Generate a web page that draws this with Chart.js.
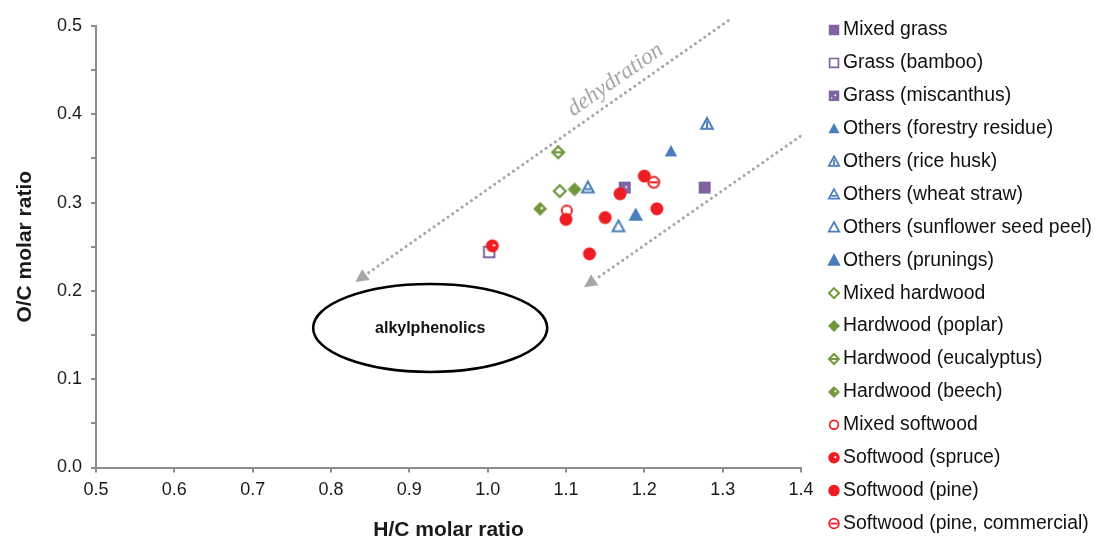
<!DOCTYPE html>
<html><head><meta charset="utf-8">
<script src="https://cdn.jsdelivr.net/npm/chart.js@4.4.0/dist/chart.umd.min.js"></script>
<style>html,body{margin:0;padding:0;background:#fff;}#wrap{width:1095px;height:546px;}</style>
</head><body><div id="wrap"><canvas id="c" width="1095" height="546"></canvas></div>
<script>
// ---- data (H/C, O/C) ----
const seriesLabels = ['Mixed grass','Grass (bamboo)','Grass (miscanthus)','Others (forestry residue)','Others (rice husk)','Others (wheat straw)','Others (sunflower seed peel)','Others (prunings)','Mixed hardwood','Hardwood (poplar)','Hardwood (eucalyptus)','Hardwood (beech)','Mixed softwood','Softwood (spruce)','Softwood (pine)','Softwood (pine, commercial)'];
const mixedGrass      = [[1.277, 0.317]];
const grassBamboo     = [[1.002, 0.244]];
const grassMiscanthus = [[1.175, 0.317]];
const forestryResidue = [[1.234, 0.358]];
const riceHusk        = [[1.280, 0.389]];
const wheatStraw      = [[1.128, 0.317]];
const sunflowerPeel   = [[1.167, 0.273]];
const prunings        = [[1.189, 0.286]];
const mixedHardwood   = [[1.092, 0.313]];
const poplar          = [[1.111, 0.315]];
const eucalyptus      = [[1.090, 0.357]];
const beech           = [[1.067, 0.293]];
const mixedSoftwood   = [[1.101, 0.291]];
const spruce          = [[1.006, 0.251]];
const pine            = [[1.100, 0.281],[1.150, 0.283],[1.130, 0.242],[1.169, 0.310],[1.200, 0.330],[1.216, 0.293]];
const pineCommercial  = [[1.212, 0.323]];
const seriesData = [mixedGrass, grassBamboo, grassMiscanthus, forestryResidue, riceHusk, wheatStraw, sunflowerPeel, prunings, mixedHardwood, poplar, eucalyptus, beech, mixedSoftwood, spruce, pine, pineCommercial];
const xTickStep = 0.1, yTickStep = 0.05;
const xRange = [0.5, 1.4], yRange = [0, 0.5];
const xTitle = 'H/C molar ratio', yTitle = 'O/C molar ratio';
const ellipseLabel = 'alkylphenolics', arrowLabel = 'dehydration';
// annotation geometry in data units
const arrowUpper = [[1.307, 0.506],[0.831, 0.210]];
const arrowLower = [[1.399, 0.375],[1.123, 0.204]];
const ellipseCenter = [0.9266, 0.158], ellipseRadii = [0.1494, 0.0498];
const arrowLabelPos = [1.163, 0.439];

// ---- styles ----
const PURPLE='#8064a2', BLUE='#4a7ebb', GREEN='#71993b', RED='#ee1d23';
const markers = [
  {shape:'square', v:'fill', c:PURPLE, s:12, ls:10.5},
  {shape:'square', v:'open', c:PURPLE, s:12.5, ls:10.5},
  {shape:'square', v:'dot', c:PURPLE, s:12, ls:10.5},
  {shape:'tri', v:'fill', c:BLUE, s:11, ls:10},
  {shape:'tri', v:'vbar', c:BLUE, s:12.5, ls:11},
  {shape:'tri', v:'hbar', c:BLUE, s:12.5, ls:11},
  {shape:'tri', v:'open', c:BLUE, s:12.5, ls:11},
  {shape:'tri', v:'fill', c:BLUE, s:13, ls:12},
  {shape:'diamond', v:'open', c:GREEN, s:14, ls:12},
  {shape:'diamond', v:'fill', c:GREEN, s:14, ls:12},
  {shape:'diamond', v:'hbar', c:GREEN, s:14, ls:12},
  {shape:'diamond', v:'dot', c:GREEN, s:14, ls:12},
  {shape:'circle', v:'open', c:RED, s:12, ls:10.5},
  {shape:'circle', v:'dot', c:RED, s:13, ls:11.5},
  {shape:'circle', v:'fill', c:RED, s:13, ls:11.5},
  {shape:'circle', v:'hbar', c:RED, s:13, ls:11.5}
];

function pathShape(ctx, shape, cx, cy, s){
  const h = s/2;
  ctx.beginPath();
  if (shape==='square'){ ctx.rect(cx-h, cy-h, s, s); }
  else if (shape==='tri'){ ctx.moveTo(cx, cy-0.58*s); ctx.lineTo(cx+0.56*s, cy+0.45*s); ctx.lineTo(cx-0.56*s, cy+0.45*s); ctx.closePath(); }
  else if (shape==='diamond'){ ctx.moveTo(cx, cy-h); ctx.lineTo(cx+h, cy); ctx.lineTo(cx, cy+h); ctx.lineTo(cx-h, cy); ctx.closePath(); }
  else { ctx.arc(cx, cy, h, 0, Math.PI*2); }
}
function drawMarker(ctx, m, cx, cy, s){
  const lw = Math.max(1.6, s*0.16);
  ctx.save();
  ctx.lineJoin='miter';
  if (m.v==='fill' || m.v==='dot'){
    pathShape(ctx, m.shape, cx, cy, s); ctx.fillStyle=m.c; ctx.fill();
    if (m.v==='dot'){
      ctx.fillStyle='#fff';
      ctx.beginPath(); ctx.arc(cx+0.12*s, cy-0.05*s, s*0.09, 0, Math.PI*2); ctx.fill();
      if (m.shape==='square'){ ctx.beginPath(); ctx.arc(cx-0.22*s, cy+0.2*s, s*0.07, 0, Math.PI*2); ctx.fill(); }
    }
  } else {
    const si = s - lw;
    pathShape(ctx, m.shape, cx, cy, si); ctx.fillStyle='#fff'; ctx.fill();
    ctx.strokeStyle=m.c; ctx.lineWidth=lw; ctx.stroke();
    ctx.beginPath();
    if (m.v==='vbar'){ ctx.moveTo(cx, cy-0.2*s); ctx.lineTo(cx, cy+0.4*s); }
    if (m.v==='hbar'){
      if (m.shape==='tri'){ ctx.moveTo(cx-0.25*s, cy+0.12*s); ctx.lineTo(cx+0.25*s, cy+0.12*s); }
      else { ctx.moveTo(cx-0.3*s, cy); ctx.lineTo(cx+0.3*s, cy); }
    }
    ctx.lineWidth=lw; ctx.stroke();
  }
  ctx.restore();
}
function markerCanvas(m){
  const cv = document.createElement('canvas');
  cv.width = 24; cv.height = 24;
  drawMarker(cv.getContext('2d'), m, 12, 12, m.s);
  return cv;
}

const FONT = "'Liberation Sans', Arial, Helvetica, sans-serif";
const AXIS = '#8c8c8c', TEXT = '#1a1a1a', ANNOT = '#a6a6a6';

const annotations = {
  id:'annotations',
  beforeDatasetsDraw(chart){
    const {ctx, scales:{x, y}} = chart;
    const P = p => [x.getPixelForValue(p[0]), y.getPixelForValue(p[1])];
    ctx.save();
    [arrowUpper, arrowLower].forEach(a => {
      const [x0,y0] = P(a[0]), [x1,y1] = P(a[1]);
      const ang = Math.atan2(y1-y0, x1-x0), L = 13, W = 6.5;
      const bx = x1 - L*Math.cos(ang), by = y1 - L*Math.sin(ang);
      ctx.strokeStyle = ANNOT; ctx.lineWidth = 3; ctx.lineCap='round';
      ctx.setLineDash([0.1, 5.6]);
      ctx.beginPath(); ctx.moveTo(x0,y0); ctx.lineTo(bx,by); ctx.stroke();
      ctx.setLineDash([]);
      ctx.fillStyle = ANNOT;
      ctx.beginPath(); ctx.moveTo(x1,y1);
      ctx.lineTo(bx + W*Math.sin(ang), by - W*Math.cos(ang));
      ctx.lineTo(bx - W*Math.sin(ang), by + W*Math.cos(ang));
      ctx.closePath(); ctx.fill();
    });
    const [u0x,u0y] = P(arrowUpper[1]), [u1x,u1y] = P(arrowUpper[0]);
    const tang = Math.atan2(u1y-u0y, u1x-u0x);
    const [tx,ty] = P(arrowLabelPos);
    ctx.translate(tx,ty); ctx.rotate(tang);
    ctx.font = "italic 23px 'Liberation Serif', 'Times New Roman', serif";
    ctx.fillStyle = ANNOT; ctx.textAlign='center'; ctx.textBaseline='middle';
    ctx.fillText(arrowLabel, 0, 0);
    ctx.setTransform(1,0,0,1,0,0);
    ctx.restore();
    ctx.save();
    const [ex,ey] = P(ellipseCenter);
    const rx = Math.abs(x.getPixelForValue(ellipseCenter[0]+ellipseRadii[0]) - ex);
    const ry = Math.abs(y.getPixelForValue(ellipseCenter[1]+ellipseRadii[1]) - ey);
    ctx.strokeStyle='#000'; ctx.lineWidth=2.6;
    ctx.beginPath(); ctx.ellipse(ex, ey, rx, ry, 0, 0, Math.PI*2); ctx.stroke();
    ctx.fillStyle='#111'; ctx.font = "bold 16px " + FONT; ctx.textAlign='center'; ctx.textBaseline='middle';
    ctx.fillText(ellipseLabel, ex, ey+1);
    ctx.restore();
  }
};

const sideLegend = {
  id:'sideLegend',
  afterDraw(chart){
    const ctx = chart.ctx;
    ctx.save();
    ctx.font = "19.4px " + FONT; ctx.fillStyle = '#111'; ctx.textAlign='left'; ctx.textBaseline='middle';
    chart.data.datasets.forEach((ds, i) => {
      const yy = 30 + i*32.9;
      drawMarker(ctx, markers[i], 834, yy, markers[i].ls);
      ctx.fillText(ds.label, 843, yy);
    });
    ctx.restore();
  }
};

const datasets = seriesLabels.map((lab, i) => ({
  label: lab,
  data: seriesData[i].map(p => ({x:p[0], y:p[1]})),
  pointStyle: markerCanvas(markers[i]),
  pointRadius: 5,
  showLine: false,
  order: -i
}));

new Chart(document.getElementById('c'), {
  type: 'scatter',
  data: { datasets },
  plugins: [annotations, sideLegend],
  options: {
    responsive: false, animation: false, devicePixelRatio: 1,
    layout: { padding: { top: 26, right: 294, left: 0, bottom: 0 } },
    plugins: { legend: { display: false }, tooltip: { enabled: false } },
    scales: {
      x: {
        type: 'linear', min: xRange[0], max: xRange[1],
        ticks: { stepSize: xTickStep, autoSkip: false, maxRotation: 0, padding: 7, color: TEXT,
                 font: { size: 18, family: FONT }, callback: v => Number(v).toFixed(1) },
        grid: { drawOnChartArea: false, drawTicks: true, tickLength: 5, color: AXIS, lineWidth: 2 },
        border: { display: true, color: AXIS, width: 2 },
        title: { display: true, text: xTitle, color: TEXT, font: { size: 21, weight: 'bold', family: FONT }, padding: { top: 0, bottom: 3 } },
        afterFit: s => { s.height = 78.5; }
      },
      y: {
        type: 'linear', min: yRange[0], max: yRange[1],
        ticks: { stepSize: yTickStep, autoSkip: false, padding: 9, color: TEXT,
                 font: { size: 18, family: FONT },
                 callback: v => (Math.round(v*20) % 2 === 0 ? Number(v).toFixed(1) : '') },
        grid: { drawOnChartArea: false, drawTicks: true, tickLength: 5, color: AXIS, lineWidth: 2 },
        border: { display: true, color: AXIS, width: 2 },
        title: { display: true, text: yTitle, color: TEXT, font: { size: 21, weight: 'bold', family: FONT }, padding: { top: 13, bottom: 0 } },
        afterFit: s => { s.width = 96; }
      }
    }
  }
});
</script>
</body></html>
